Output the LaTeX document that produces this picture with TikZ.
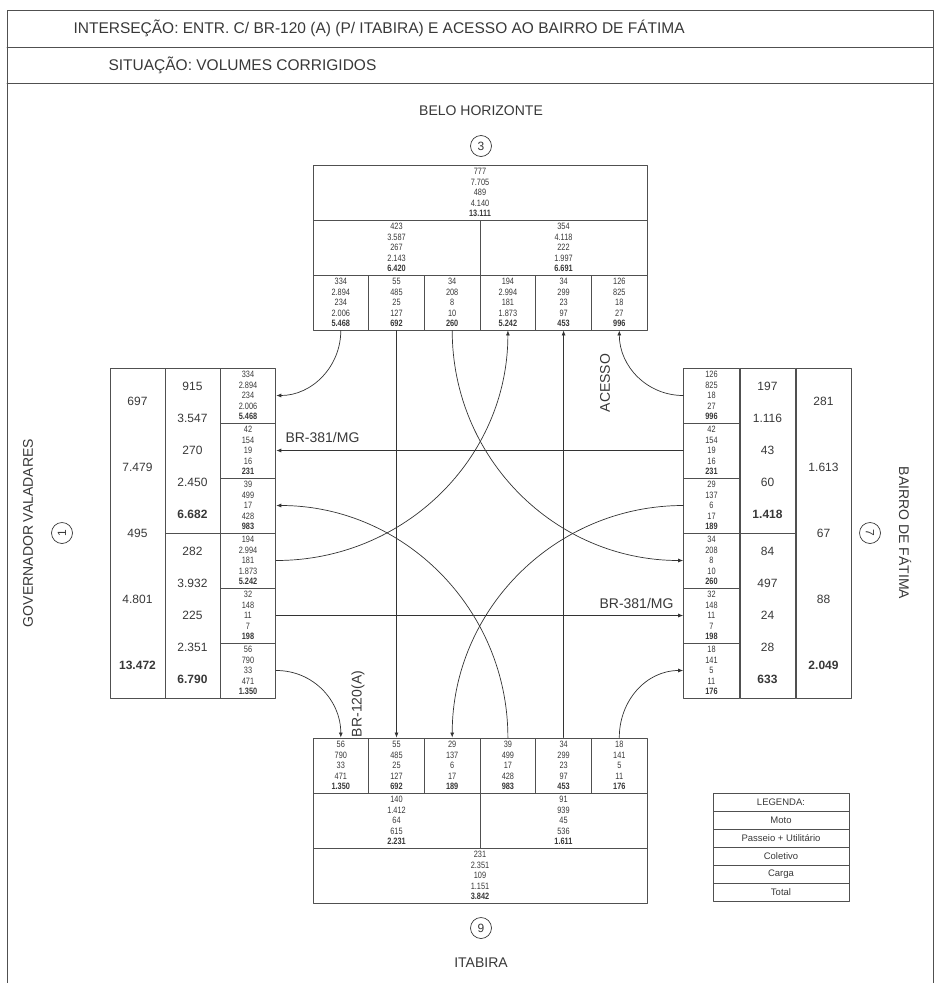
\documentclass[tikz,border=0pt]{standalone}
\usepackage{fontspec}
\setmainfont{Liberation Sans}
\newfontfamily\narrowdigits[FakeStretch=0.8]{Liberation Sans}
\usepackage{xcolor}
\usetikzlibrary{arrows.meta}

\definecolor{linec}{HTML}{505050}
\definecolor{txtc}{HTML}{383838}

% five volumes of one movement, total in bold
\newcommand{\volcell}[5]{#1\\#2\\#3\\#4\\\textbf{#5}}

\begin{document}
\begin{tikzpicture}[x=1pt, y=-1pt, line cap=round, line join=round,
	frame/.style={draw=linec, line width=0.9pt},
	box/.style={draw=linec, line width=0.9pt, inner sep=0pt, align=center, text=txtc},
	cell/.style={box, minimum width=55.67pt, minimum height=55pt, font={\narrowdigits\fontsize{9.2}{10.4}\selectfont}},
	midcol/.style={box, minimum width=55pt, minimum height=165pt, font=\fontsize{12}{32}\selectfont},
	outcol/.style={box, minimum width=55pt, minimum height=330pt, font=\fontsize{12}{66}\selectfont},
	flow/.style={draw=black!80, line width=0.7pt, -{Latex[length=5pt,width=4pt]}},
	head/.style={text=txtc, font=\fontsize{15.5}{18}\selectfont},
	lbl/.style={text=txtc, font=\fontsize{14}{16}\selectfont},
	num/.style={circle, draw=txtc, line width=0.7pt, minimum size=21pt, inner sep=0pt, text=txtc, font=\fontsize{12}{14}\selectfont},
	legrow/.style={box, line width=0.7pt, minimum width=136pt, minimum height=18pt, font=\fontsize{9.5}{11}\selectfont}]
	
	\useasboundingbox (0,0) rectangle (941,983);
	
	% Frame and header rows
	\draw[frame] (7,983) -- (7,10) -- (933,10) -- (933,983);
	\draw[frame] (7,47) -- (933,47);
	\draw[frame] (7,83) -- (933,83);
	\node[head, anchor=west] (title) at (70,28.5) {INTERSEÇÃO: ENTR. C/ BR-120 (A) (P/ ITABIRA) E ACESSO AO BAIRRO DE FÁTIMA};
	\node[head, anchor=west] (situacao) at (105,65) {SITUAÇÃO: VOLUMES CORRIGIDOS};
	
	% Approach names
	\node[lbl] (bh) at (481,111) {BELO HORIZONTE};
	\node[num] (n3) at (481,146) {3};
	\node[lbl] (itabira) at (481,963) {ITABIRA};
	\node[num] (n9) at (481,928) {9};
	\node[lbl, rotate=90] (gv) at (28,533) {GOVERNADOR VALADARES};
	\node[num, rotate=90] (n1) at (62,533) {1};
	\node[lbl, rotate=-90] (fatima) at (905,533) {BAIRRO DE FÁTIMA};
	\node[num, rotate=-90] (n7) at (870,533) {7};
	
	% Top box (3)
	\node[cell, minimum width=334pt] (tAll) at (480,192.5) {\volcell{777}{7.705}{489}{4.140}{13.111}};
	\node[cell, minimum width=167pt] (tL) at (396.5,247.5) {\volcell{423}{3.587}{267}{2.143}{6.420}};
	\node[cell, minimum width=167pt] (tR) at (563.5,247.5) {\volcell{354}{4.118}{222}{1.997}{6.691}};
	\node[cell] (t1) at (340.8,302.5) {\volcell{334}{2.894}{234}{2.006}{5.468}};
	\node[cell] (t2) at (396.5,302.5) {\volcell{55}{485}{25}{127}{692}};
	\node[cell] (t3) at (452.2,302.5) {\volcell{34}{208}{8}{10}{260}};
	\node[cell] (t4) at (507.9,302.5) {\volcell{194}{2.994}{181}{1.873}{5.242}};
	\node[cell] (t5) at (563.6,302.5) {\volcell{34}{299}{23}{97}{453}};
	\node[cell] (t6) at (619.3,302.5) {\volcell{126}{825}{18}{27}{996}};
	
	% Bottom box (9)
	\node[cell] (b1) at (340.8,765.5) {\volcell{56}{790}{33}{471}{1.350}};
	\node[cell] (b2) at (396.5,765.5) {\volcell{55}{485}{25}{127}{692}};
	\node[cell] (b3) at (452.2,765.5) {\volcell{29}{137}{6}{17}{189}};
	\node[cell] (b4) at (507.9,765.5) {\volcell{39}{499}{17}{428}{983}};
	\node[cell] (b5) at (563.6,765.5) {\volcell{34}{299}{23}{97}{453}};
	\node[cell] (b6) at (619.3,765.5) {\volcell{18}{141}{5}{11}{176}};
	\node[cell, minimum width=167pt] (bL) at (396.5,820.5) {\volcell{140}{1.412}{64}{615}{2.231}};
	\node[cell, minimum width=167pt] (bR) at (563.5,820.5) {\volcell{91}{939}{45}{536}{1.611}};
	\node[cell, minimum width=334pt] (bAll) at (480,875.5) {\volcell{231}{2.351}{109}{1.151}{3.842}};
	
	% Left box (1)
	\node[outcol] (lOut) at (137.5,533) {697\\7.479\\495\\4.801\\\textbf{13.472}};
	\node[midcol] (lMidA) at (192.5,450.5) {915\\3.547\\270\\2.450\\\textbf{6.682}};
	\node[midcol] (lMidB) at (192.5,615.5) {282\\3.932\\225\\2.351\\\textbf{6.790}};
	\node[cell] (l1) at (248,395.5) {\volcell{334}{2.894}{234}{2.006}{5.468}};
	\node[cell] (l2) at (248,450.5) {\volcell{42}{154}{19}{16}{231}};
	\node[cell] (l3) at (248,505.5) {\volcell{39}{499}{17}{428}{983}};
	\node[cell] (l4) at (248,560.5) {\volcell{194}{2.994}{181}{1.873}{5.242}};
	\node[cell] (l5) at (248,615.5) {\volcell{32}{148}{11}{7}{198}};
	\node[cell] (l6) at (248,670.5) {\volcell{56}{790}{33}{471}{1.350}};
	
	% Right box (7)
	\node[cell] (r1) at (711.5,395.5) {\volcell{126}{825}{18}{27}{996}};
	\node[cell] (r2) at (711.5,450.5) {\volcell{42}{154}{19}{16}{231}};
	\node[cell] (r3) at (711.5,505.5) {\volcell{29}{137}{6}{17}{189}};
	\node[cell] (r4) at (711.5,560.5) {\volcell{34}{208}{8}{10}{260}};
	\node[cell] (r5) at (711.5,615.5) {\volcell{32}{148}{11}{7}{198}};
	\node[cell] (r6) at (711.5,670.5) {\volcell{18}{141}{5}{11}{176}};
	\node[midcol] (rMidA) at (767.5,450.5) {197\\1.116\\43\\60\\\textbf{1.418}};
	\node[midcol] (rMidB) at (767.5,615.5) {84\\497\\24\\28\\\textbf{633}};
	\node[outcol] (rOut) at (823.5,533) {281\\1.613\\67\\88\\\textbf{2.049}};
	
	% Movements leaving Belo Horizonte
	\draw[flow] (t1.south) .. controls +(0,36) and +(36,0) .. (l1.east);
	\draw[flow] (t2.south) -- (b2.north);
	\draw[flow] (t3.south) .. controls +(0,128) and +(-128,0) .. (r4.west);
	
	% Movements arriving at Belo Horizonte
	\draw[flow] (l4.east) .. controls +(128,0) and +(0,128) .. (t4.south);
	\draw[flow] (b5.north) -- (t5.south);
	\draw[flow] (r1.west) .. controls +(-36,0) and +(0,36) .. (t6.south);
	
	% Through and turning movements between the side approaches
	\draw[flow] (r2.west) -- (l2.east);
	\draw[flow] (l5.east) -- (r5.west);
	\draw[flow] (b4.north) .. controls +(0,-128) and +(128,0) .. (l3.east);
	\draw[flow] (r3.west) .. controls +(-128,0) and +(0,-128) .. (b3.north);
	\draw[flow] (l6.east) .. controls +(37,0) and +(0,-37) .. (b1.north);
	\draw[flow] (b6.north) .. controls +(0,-37) and +(-37,0) .. (r6.west);
	
	% Road labels
	\node[lbl, anchor=west] (brW) at (282,437) {BR-381/MG};
	\node[lbl, anchor=east] (brE) at (677,603) {BR-381/MG};
	\node[lbl, rotate=90] (acesso) at (605,383) {ACESSO};
	\node[lbl, rotate=90] (br120) at (358,704) {BR-120(A)};
	
	% Legend
	\foreach \txt [count=\i] in {LEGENDA:, Moto, Passeio + Utilitário, Coletivo, Carga, Total}
	\node[legrow] (leg\i) at (781,784+18*\i) {\txt};
	
\end{tikzpicture}
\end{document}
